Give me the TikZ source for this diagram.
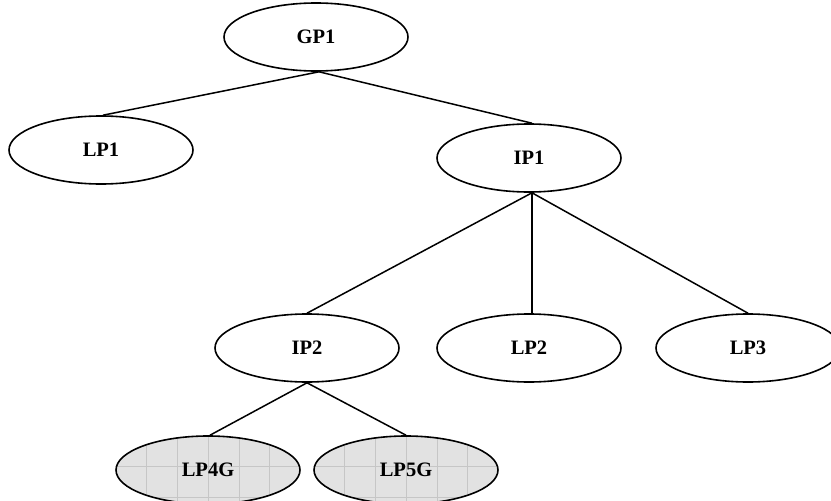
\documentclass[tikz,border=0pt]{standalone}
\usepackage{fontspec}
\setmainfont{Liberation Serif}
\usetikzlibrary{shapes.geometric}
\definecolor{gfill}{HTML}{E2E2E2}
\definecolor{gline}{HTML}{C6C6C6}
\tikzset{
  pnode/.style={ellipse, draw=black, line width=1.6pt, minimum width=184pt, minimum height=68pt,
    inner sep=0pt, font=\fontsize{20.5}{24}\selectfont\bfseries, fill=white},
  gridnode/.style={pnode, fill=gfill,
    path picture={
      \foreach \k in {1,...,6}{
        \draw[gline, line width=0.6pt] ([xshift=\k*30.7pt]path picture bounding box.north west) -- ([xshift=\k*30.7pt]path picture bounding box.south west);
        \draw[gline, line width=0.6pt] ([yshift=-\k*30.7pt]path picture bounding box.north west) -- ([yshift=-\k*30.7pt]path picture bounding box.north east);
      }
    }},
  link/.style={draw=black, line width=1.5pt}
}
\begin{document}
\begin{tikzpicture}[x=1pt,y=-1pt]
\clip (0,0) rectangle (831,501);
\useasboundingbox (0,0) rectangle (831,501);
\fill[white] (0,0) rectangle (831,501);
\node[pnode] (GP1) at (316,37) {GP1};
\node[pnode] (LP1) at (101,150) {LP1};
\node[pnode] (IP1) at (529,158) {IP1};
\node[pnode] (IP2) at (307,348) {IP2};
\node[pnode] (LP2) at (529,348) {LP2};
\node[pnode] (LP3) at (748,348) {LP3};
\node[gridnode] (LP4G) at (208,470) {LP4G};
\node[gridnode] (LP5G) at (406,470) {LP5G};
\draw[link] ([xshift=3pt]GP1.south) -- ([xshift=2pt]LP1.north);
\draw[link] ([xshift=3pt]GP1.south) -- ([xshift=3pt]IP1.north);
\draw[link] ([xshift=3pt]IP1.south) -- (IP2.north);
\draw[link] ([xshift=3pt]IP1.south) -- ([xshift=3pt]LP2.north);
\draw[link] ([xshift=3pt]IP1.south) -- (LP3.north);
\draw[link] (IP2.south) -- ([xshift=2pt]LP4G.north);
\draw[link] (IP2.south) -- (LP5G.north);
\end{tikzpicture}
\end{document}
